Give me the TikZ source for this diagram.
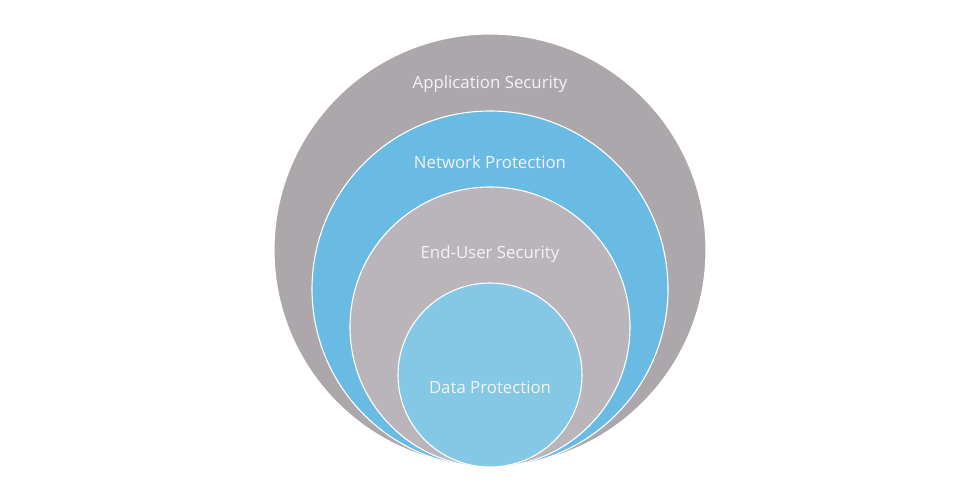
\documentclass[tikz,border=0pt]{standalone}
\usepackage{fontspec}
\setmainfont{Open Sans}
\definecolor{outergray}{HTML}{ABA7AB}
\definecolor{netblue}{HTML}{6ABBE4}
\definecolor{innergray}{HTML}{B9B5BA}
\definecolor{datablue}{HTML}{84C8E5}
\definecolor{labeltext}{HTML}{F4F4F6}
\begin{document}
\begin{tikzpicture}[x=1pt,y=-1pt,
  ring/.style={circle, draw=white, line width=1.1pt, inner sep=0pt},
  lbl/.style={text=labeltext, font=\fontsize{16.8}{19}\selectfont, inner sep=0pt}]
\useasboundingbox[fill=white] (0,0) rectangle (980,490);
\node[ring, fill=outergray, minimum size=432pt] (app) at (490,250) {};
\node[ring, fill=netblue, minimum size=356pt] (net) at (490,289) {};
\node[ring, fill=innergray, minimum size=280pt] (end) at (490,327) {};
\node[ring, fill=datablue, minimum size=184pt] (data) at (490,375) {};
\node[lbl] (tapp) at (490,84) {Application Security};
\node[lbl] (tnet) at (490,162) {Network Protection};
\node[lbl] (tend) at (490,254) {End-User Security};
\node[lbl] (tdata) at (490,387) {Data Protection};
\end{tikzpicture}
\end{document}
